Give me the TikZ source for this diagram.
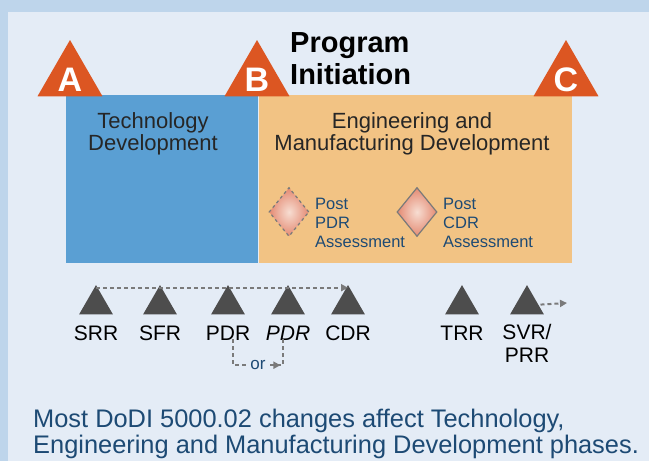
\documentclass[tikz,border=0pt]{standalone}
\usepackage{fontspec}
\setmainfont{Liberation Sans}
\usetikzlibrary{shapes.geometric,arrows.meta,decorations.markings}

\definecolor{framebg}{HTML}{BED5EB}
\definecolor{panelbg}{HTML}{E4ECF6}
\definecolor{techblue}{HTML}{5A9FD3}
\definecolor{emdorange}{HTML}{F2C384}
\definecolor{msorange}{HTML}{DC5622}
\definecolor{revgray}{HTML}{4D4D4D}
\definecolor{dashgray}{HTML}{7A7A7A}
\definecolor{noteblue}{HTML}{1D4A74}
\definecolor{pinklight}{HTML}{F7DDD2}
\definecolor{pinkdark}{HTML}{E48A72}

\tikzset{
  bigtri/.style={regular polygon, regular polygon sides=3, minimum size=75pt, inner sep=0pt, fill=msorange},
  bigletter/.style={text=white, font=\fontsize{34}{34}\selectfont\bfseries, inner sep=0pt},
  revtri/.style={regular polygon, regular polygon sides=3, minimum size=39pt, inner sep=0pt, fill=revgray},
  revlabel/.style={font=\fontsize{21}{23}\selectfont, text=black, inner sep=1pt},
  phasetext/.style={font=\fontsize{22}{22}\selectfont, text=black!85, inner sep=0pt, align=center, anchor=north},
  assess/.style={diamond, minimum width=40pt, minimum height=49pt, inner sep=0pt, inner color=pinklight, outer color=pinkdark, draw=dashgray, line width=1.2pt},
  assesstext/.style={font=\fontsize{16.5}{19}\selectfont, text=noteblue, inner sep=0pt, align=left, anchor=north west},
  dasharrow/.style={draw=dashgray, line width=2pt, dash pattern=on 4pt off 3pt, -{Triangle[length=7pt,width=7pt]}}
}

\begin{document}
\begin{tikzpicture}[x=1pt,y=1pt,yscale=-1,xscale=1]
        \useasboundingbox (0,0) rectangle (649,461);
        %Shape: Background
        \fill [framebg] (0,0) rectangle (649,461);
        \fill [panelbg] (8,12) rectangle (649,461);

        %Shape: Phase boxes
        \fill [techblue] (66,95) rectangle (258,263);
        \fill [emdorange] (259,95) rectangle (572,263);

        % Text Node
        \node [phasetext] (techdev) at (153,112) {Technology\\Development};
        % Text Node
        \node [phasetext] (emd) at (412,112) {Engineering and\\Manufacturing Development};

        %Shape: Milestone triangles
        \node [bigtri] (msa) at (70,77.5) {};
        \node [bigtri] (msb) at (257,77.5) {};
        \node [bigtri] (msc) at (566,77.5) {};
        \node [bigletter] (msal) at ([yshift=2.5]msa.center) {A};
        \node [bigletter] (msbl) at ([yshift=2.5]msb.center) {B};
        \node [bigletter] (mscl) at ([yshift=2.5]msc.center) {C};

        % Text Node
        \node [font=\fontsize{29}{32}\selectfont\bfseries, inner sep=0pt, align=left, anchor=north west] (pinit) at (290,32) {Program\\Initiation};

        %Shape: Assessment diamonds
        \node [assess, dashed] (postpdr) at (289,212) {};
        \node [assess] (postcdr) at (417,212) {};
        % Text Node
        \node [assesstext] (postpdrl) at (315,198) {Post\\PDR\\Assessment};
        % Text Node
        \node [assesstext] (postcdrl) at (443,198) {Post\\CDR\\Assessment};

        %Shape: Technical reviews
        \node [revtri] (srr) at (96,304.6) {};
        \node [revtri] (sfr) at (160,304.6) {};
        \node [revtri] (pdr) at (228,304.6) {};
        \node [revtri] (pdri) at (288,304.6) {};
        \node [revtri] (cdr) at (348,304.6) {};
        \node [revtri] (trr) at (462,304.6) {};
        \node [revtri] (svr) at (527,304.6) {};

        % Text Node
        \node [revlabel, anchor=base] (srrl) at (96,340) {SRR};
        \node [revlabel, anchor=base] (sfrl) at (160,340) {SFR};
        \node [revlabel, anchor=base] (pdrl) at (228,340) {PDR};
        \node [revlabel, anchor=base] (pdril) at (288,340) {\textit{PDR}};
        \node [revlabel, anchor=base] (cdrl) at (348,340) {CDR};
        \node [revlabel, anchor=base] (trrl) at (462,340) {TRR};
        \node [revlabel, anchor=north, align=center, inner sep=0pt] (svrl) at (527,324) {SVR/\\PRR};

        %Curve Lines
        \draw [dasharrow] ([yshift=3]srr.corner 1) -- ([yshift=3]cdr.corner 1);
        \coordinate (svrend) at (567,303);
        \draw [dasharrow] ([xshift=2]svr.east) -- (svrend);
        \draw [draw=dashgray, line width=2pt, dash pattern=on 4pt off 3pt,
               postaction={decorate}, decoration={markings, mark=at position 0.72 with {\arrow{Triangle[length=7pt,width=7pt]}}}]
              ([xshift=5,yshift=-2]pdrl.south) -- ++(0,26) coordinate (orbend)
              -| node [pos=0.25, fill=panelbg, inner sep=1.5pt, text=noteblue, font=\fontsize{17}{17}\selectfont] (orl) {or}
              ([xshift=-5,yshift=-2]pdril.south);

        % Text Node
        \node [font=\fontsize{25.4}{26}\selectfont, text=noteblue, inner sep=0pt, align=left, anchor=north west] (note) at (33,408.5)
              {Most DoDI 5000.02 changes affect Technology,\\Engineering and Manufacturing Development phases.};
\end{tikzpicture}
\end{document}
